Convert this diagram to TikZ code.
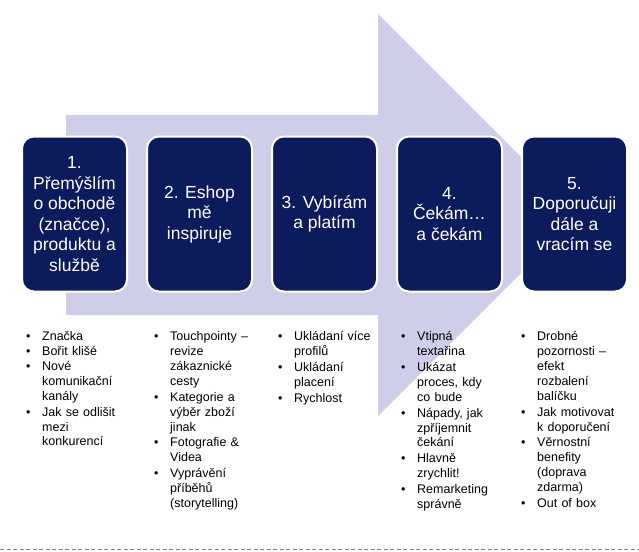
\documentclass[tikz,border=0pt]{standalone}
\usepackage{fontspec}
\setmainfont{Liberation Sans}
\usepackage{tikz}
\definecolor{navy}{RGB}{12,27,92}
\definecolor{lavender}{RGB}{206,206,232}
\newcommand{\bod}[1]{\par\noindent\hbox to 16pt{\strut\textbullet\hfil}\begin{tabular}[t]{@{}l@{}}#1\end{tabular}}

\begin{document}
\begin{tikzpicture}[x=1pt,y=-1pt]
\tikzstyle{krok}=[rectangle,rounded corners=12pt,draw=white,line width=2pt,fill=navy,text=white,minimum width=105pt,minimum height=155pt,inner sep=0pt,align=center,font=\fontsize{17.5}{20.5}\selectfont]
\tikzstyle{seznam}=[anchor=north west,text width=120pt,inner sep=0pt,font=\fontsize{12.5}{14.9}\selectfont]
\useasboundingbox (0,0) rectangle (639,551);
% arrow in the background
\fill[lavender] (66,115) -- (378,115) -- (378,14) -- (579,215) -- (378,416) -- (378,315) -- (66,315) -- cycle;
% steps
\node[krok] at(74.5, 214) (k1) {1.\\Přemýšlím\\o obchodě\\(značce),\\produktu a\\službě};
\node[krok] at(199.5, 214) (k2) {2. Eshop\\mě\\inspiruje};
\node[krok] at(324.5, 214) (k3) {3. Vybírám\\a platím};
\node[krok] at(449.5, 214) (k4) {4.\\Čekám…\\a čekám};
\node[krok] at(574.5, 214) (k5) {5.\\Doporučuji\\dále a\\vracím se};
% lists under the steps
\node[seznam] at(26, 325.5) (s1) {\bod{Značka}
                                \bod{Bořit klišé}
                                \bod{Nové\\komunikační\\kanály}
                                \bod{Jak se odlišit\\mezi\\konkurencí}};
\node[seznam] at(154, 325.5) (s2) {\bod{Touchpointy –\\revize\\zákaznické\\cesty}
                                 \bod{Kategorie a\\výběr zboží\\jinak}
                                 \bod{Fotografie \&\\Videa}
                                 \bod{Vyprávění\\příběhů\\(storytelling)}};
\node[seznam] at(278, 325.5) (s3) {\bod{Ukládaní více\\profilů}
                                 \bod{Ukládaní\\placení}
                                 \bod{Rychlost}};
\node[seznam] at(401, 325.5) (s4) {\bod{Vtipná\\textařina}
                                 \bod{Ukázat\\proces, kdy\\co bude}
                                 \bod{Nápady, jak\\zpříjemnit\\čekání}
                                 \bod{Hlavně\\zrychlit!}
                                 \bod{Remarketing\\správně}};
\node[seznam] at(521, 325.5) (s5) {\bod{Drobné\\pozornosti –\\efekt\\rozbalení\\balíčku}
                                 \bod{Jak motivovat\\k doporučení}
                                 \bod{Věrnostní\\benefity\\(doprava\\zdarma)}
                                 \bod{Out of box}};
% dashed line at the bottom
\draw[gray,line width=0.8pt,dash pattern=on 4pt off 2.5pt] (0,549) -- (639,549);
\end{tikzpicture}
\end{document}
